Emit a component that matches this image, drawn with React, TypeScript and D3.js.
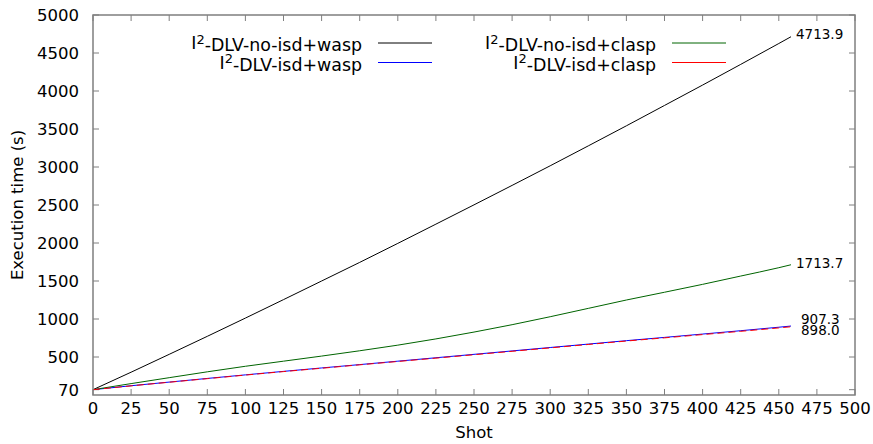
import React from "react";
import * as d3 from "d3";

const shots = [0, 25, 50, 75, 100, 125, 150, 175, 200, 225, 250, 275, 300, 325, 350, 375, 400, 425, 450, 458];
const noIsdWasp = [70, 300, 535, 772, 1012, 1255, 1500, 1745, 1995, 2248, 2502, 2758, 3016, 3278, 3542, 3810, 4078, 4350, 4625, 4713.9];
const noIsdClasp = [70, 150, 228, 305, 378, 445, 512, 582, 656, 738, 828, 925, 1030, 1140, 1250, 1352, 1456, 1565, 1675, 1713.7];
const isdWasp = [70, 122, 170, 218, 265, 311, 356, 400, 445, 490, 535, 580, 625, 670, 715, 758, 802, 846, 892, 907.3];
const isdClasp = [70, 120, 168, 215, 262, 308, 352, 397, 441, 485, 530, 575, 620, 665, 710, 752, 795, 838, 883, 898.0];

const xTicks = d3.range(0, 501, 25);
const yTicks = [70, 500, 1000, 1500, 2000, 2500, 3000, 3500, 4000, 4500, 5000];

const seriesNames = ["-DLV-no-isd+wasp", "-DLV-no-isd+clasp", "-DLV-isd+wasp", "-DLV-isd+clasp"];
const seriesColors = ["#000000", "#006400", "#0000ff", "#ff0000"];
const seriesData = [noIsdWasp, noIsdClasp, isdWasp, isdClasp];
const endLabelDy = [-3, -2, -7, 3];
const endLabelDx = [5, 5, 10, 10];

const W = 873, H = 444;
const L = 93, R = 855, T = 15, B = 395;
const FONT = "DejaVu Sans, sans-serif";

export default function App() {
  const x = d3.scaleLinear().domain([0, 500]).range([L, R]);
  const y = d3.scaleLinear().domain([0, 5000]).range([B, T]);
  const line = (vals: number[]) =>
    d3.line<number>().curve(d3.curveMonotoneX).x((_, i) => x(shots[i])).y((v) => y(v))(vals) as string;

  const legendPos = [
    { tx: 362, lx1: 378, lx2: 432, y: 43 },
    { tx: 656, lx1: 672, lx2: 726, y: 43 },
    { tx: 362, lx1: 378, lx2: 432, y: 62.5 },
    { tx: 656, lx1: 672, lx2: 726, y: 62.5 },
  ];
  const order = [0, 2, 1, 3];
  const tickColor = "#7f7f7f";

  return (
    <svg width={W} height={H} style={{ position: "absolute", left: 0, top: 0, background: "#fff" }} fontFamily={FONT}>
      <rect x={0} y={0} width={W} height={H} fill="#fff" />
      {xTicks.map((t) => (
        <g key={"xt" + t}>
          <line x1={x(t)} x2={x(t)} y1={B} y2={B - 6} stroke={tickColor} strokeWidth={1} />
          <line x1={x(t)} x2={x(t)} y1={T} y2={T + 6} stroke={tickColor} strokeWidth={1} />
          <text x={x(t)} y={414} textAnchor="middle" fontSize={16.5} fill="#000">{t}</text>
        </g>
      ))}
      {yTicks.map((t) => (
        <g key={"yt" + t}>
          <line x1={L} x2={L + 6} y1={y(t)} y2={y(t)} stroke={tickColor} strokeWidth={1} />
          <line x1={R} x2={R - 6} y1={y(t)} y2={y(t)} stroke={tickColor} strokeWidth={1} />
          <text x={79} y={y(t)} dy="0.36em" textAnchor="end" fontSize={16.5} fill="#000">{t}</text>
        </g>
      ))}
      {order.map((i) => (
        <path key={"s" + i} d={line(seriesData[i])} fill="none" stroke={seriesColors[i]} strokeWidth={1}
          strokeDasharray={i === 3 ? "7,4" : undefined} />
      ))}
      {seriesData.map((vals, i) => {
        const v = vals[vals.length - 1];
        return (
          <text key={"el" + i} x={x(shots[shots.length - 1]) + endLabelDx[i]} y={y(v) + endLabelDy[i]} dy="0.36em"
            fontSize={13.5} fill="#000">{v.toFixed(1)}</text>
        );
      })}
      {seriesNames.map((name, i) => {
        const p = legendPos[i];
        return (
          <g key={"lg" + i}>
            <text x={p.tx} y={p.y} dy="0.36em" textAnchor="end" fontSize={17.4} fill="#000">
              I<tspan fontSize={13} dy="-0.42em">2</tspan><tspan dy="0.42em">{name}</tspan>
            </text>
            <line x1={p.lx1} x2={p.lx2} y1={p.y} y2={p.y} stroke={seriesColors[i]} strokeWidth={1} />
          </g>
        );
      })}
      <rect x={L} y={T} width={R - L} height={B - T} fill="none" stroke={tickColor} strokeWidth={1.5} />
      <text x={(L + R) / 2} y={438} textAnchor="middle" fontSize={16.5} fill="#000">Shot</text>
      <text transform={`translate(23,${(T + B) / 2}) rotate(-90)`} textAnchor="middle" fontSize={16.5} fill="#000">Execution time (s)</text>
    </svg>
  );
}
